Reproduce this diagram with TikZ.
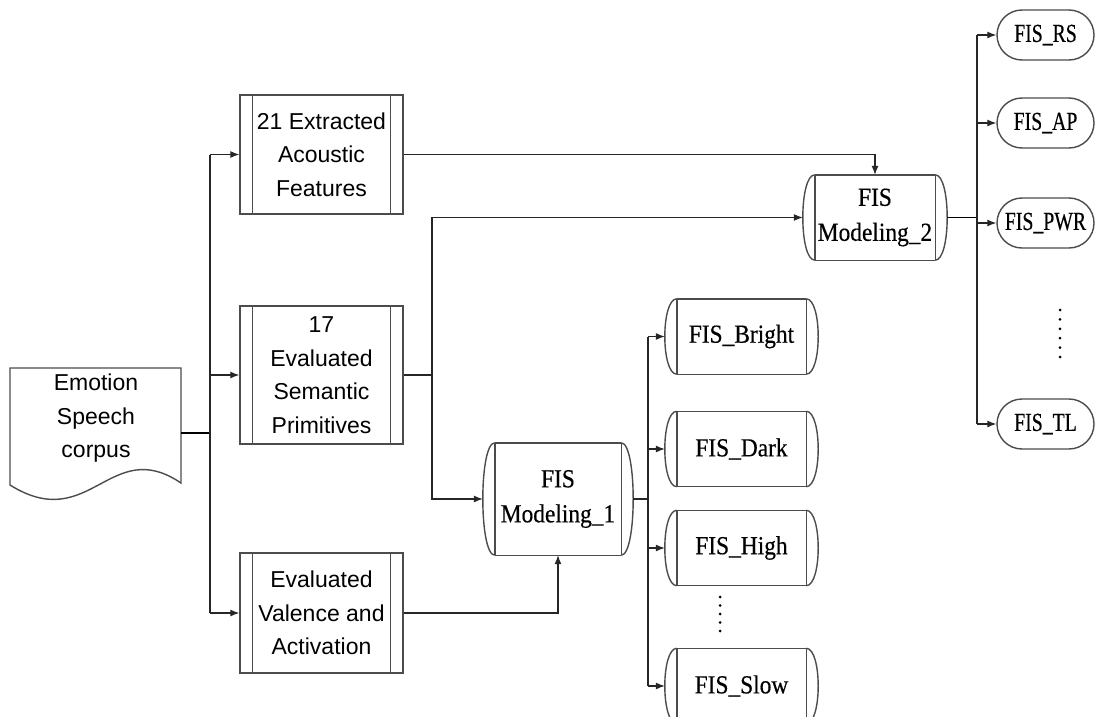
\documentclass[tikz,border=0pt]{standalone}
\usepackage{fontspec}
\setmainfont{Liberation Sans}
\newfontfamily\fisfont[FakeStretch=0.9,FakeBold=0.4]{Liberation Serif}
\newfontfamily\fisnarrow[FakeStretch=0.76,FakeBold=0.4]{Liberation Serif}
\usetikzlibrary{arrows.meta,shapes.misc}

\begin{document}
\begin{tikzpicture}[x=1pt,y=-1pt,
  line/.style={line width=1.1pt, draw=black!85},
  thickline/.style={line width=1.8pt, draw=black},
  boxline/.style={line width=1.4pt, draw=black!70},
  arr/.style={line, -{Latex[length=9pt,width=7pt]}},
  procbox/.style={draw=black!70, line width=1.4pt, minimum width=163pt, inner sep=0pt,
    align=center, font=\fontsize{23}{33.5}\selectfont,
    append after command={
      ([xshift=13pt]\tikzlastnode.north west) edge[boxline] ([xshift=13pt]\tikzlastnode.south west)
      ([xshift=-13pt]\tikzlastnode.north east) edge[boxline] ([xshift=-13pt]\tikzlastnode.south east)}},
  storebox/.style={inner sep=0pt, align=center, font=\fisfont\fontsize{26}{35}\selectfont,
    append after command={
      ([xshift=12pt]\tikzlastnode.north west) edge[boxline] ([xshift=-12pt]\tikzlastnode.north east)
      ([xshift=12pt]\tikzlastnode.south west) edge[boxline] ([xshift=-12pt]\tikzlastnode.south east)
      ([xshift=12pt]\tikzlastnode.north west) edge[boxline] ([xshift=12pt]\tikzlastnode.south west)
      ([xshift=-12pt]\tikzlastnode.north east) edge[boxline] ([xshift=-12pt]\tikzlastnode.south east)
      ([xshift=12pt]\tikzlastnode.north west) edge[boxline,out=180,in=180,distance=16pt] ([xshift=12pt]\tikzlastnode.south west)
      ([xshift=-12pt]\tikzlastnode.north east) edge[boxline,out=0,in=0,distance=16pt] ([xshift=-12pt]\tikzlastnode.south east)}},
  fisout/.style={storebox, minimum width=153pt, minimum height=75pt},
  termbox/.style={rounded rectangle, draw=black!70, line width=1.4pt, minimum width=97pt,
    minimum height=50pt, inner sep=0pt, font=\fisnarrow\fontsize{26}{26}\selectfont},
  dotted line/.style={line width=3pt, line cap=round, dash pattern=on 0pt off #1}
]
\useasboundingbox (0,0) rectangle (1096,717);

% source document
\draw[boxline] (10,368) -- (181,368) -- (181,483)
  .. controls (110,435) and (90,535) .. (10,485) -- cycle;
\node[minimum width=171pt, minimum height=130pt, inner sep=0pt] (corpus) at (95.5,433) {};
\node[align=center, font=\fontsize{23}{33.5}\selectfont] (corpustext) at (96,418.5) {Emotion\\Speech\\corpus};

% feature boxes
\node[procbox, minimum height=119pt] (box1) at (321.5,154.5) {21 Extracted\\Acoustic\\Features};
\node[procbox, minimum height=138pt] (box2) at (321.5,375) {17\\Evaluated\\Semantic\\Primitives};
\node[procbox, minimum height=120pt] (box3) at (321.5,613) {Evaluated\\Valence and\\Activation};

% FIS models
\node[storebox, minimum width=150pt, minimum height=112pt] (m1) at (558,499) {FIS\\Modeling\_1};
\node[storebox, minimum width=144pt, minimum height=85pt] (m2) at (875,217.5) {FIS\\Modeling\_2};

% outputs of model 1
\node[fisout] (bright) at (741.5,336.5) {FIS\_Bright};
\node[fisout] (dark) at (741.5,449) {FIS\_Dark};
\node[fisout] (high) at (741.5,548) {FIS\_High};
\node[fisout] (slow) at (741.5,686) {FIS\_Slow};

% outputs of model 2
\node[termbox] (rs) at (1045.5,35) {FIS\_RS};
\node[termbox] (ap) at (1045.5,123) {FIS\_AP};
\node[termbox] (pwr) at (1045.5,223) {FIS\_PWR};
\node[termbox] (tl) at (1045.5,424) {FIS\_TL};

% ellipses
\draw[dotted line=8.5pt] (720,597) -- (720,631);
\draw[dotted line=9.4pt] (1060,310) -- (1060,357);

% corpus to feature boxes
\coordinate (tk) at (210,433);
\draw[thickline] (corpus.east) -- (tk);
\draw[line] (tk |- box1.west) -- (tk |- box3.west);
\draw[arr] (tk |- box1.west) -- (box1.west);
\draw[arr] (tk |- box2.west) -- (box2.west);
\draw[arr] (tk |- box3.west) -- (box3.west);

% feature boxes to models
\draw[arr] (box1.east) -| (m2.north);
\coordinate (j2) at (432,375);
\draw[line] (box2.east) -- (j2);
\draw[arr] (j2) |- (m2.west);
\draw[arr] (j2) |- (m1.west);
\draw[arr] (box3.east) -| (m1.south);

% model 1 outputs
\coordinate (j1) at (648,499);
\draw[line] (m1.east) -- (j1);
\draw[line] (j1 |- bright.west) -- (j1 |- slow.west);
\foreach \n in {bright,dark,high,slow}
  \draw[arr] (j1 |- \n.west) -- (\n.west);

% model 2 outputs
\coordinate (j3) at (977,217.5);
\draw[thickline] (m2.east) -- (j3);
\draw[line] (j3 |- rs.west) -- (j3 |- tl.west);
\foreach \n in {rs,ap,pwr,tl}
  \draw[arr] (j3 |- \n.west) -- (\n.west);
\end{tikzpicture}
\end{document}
